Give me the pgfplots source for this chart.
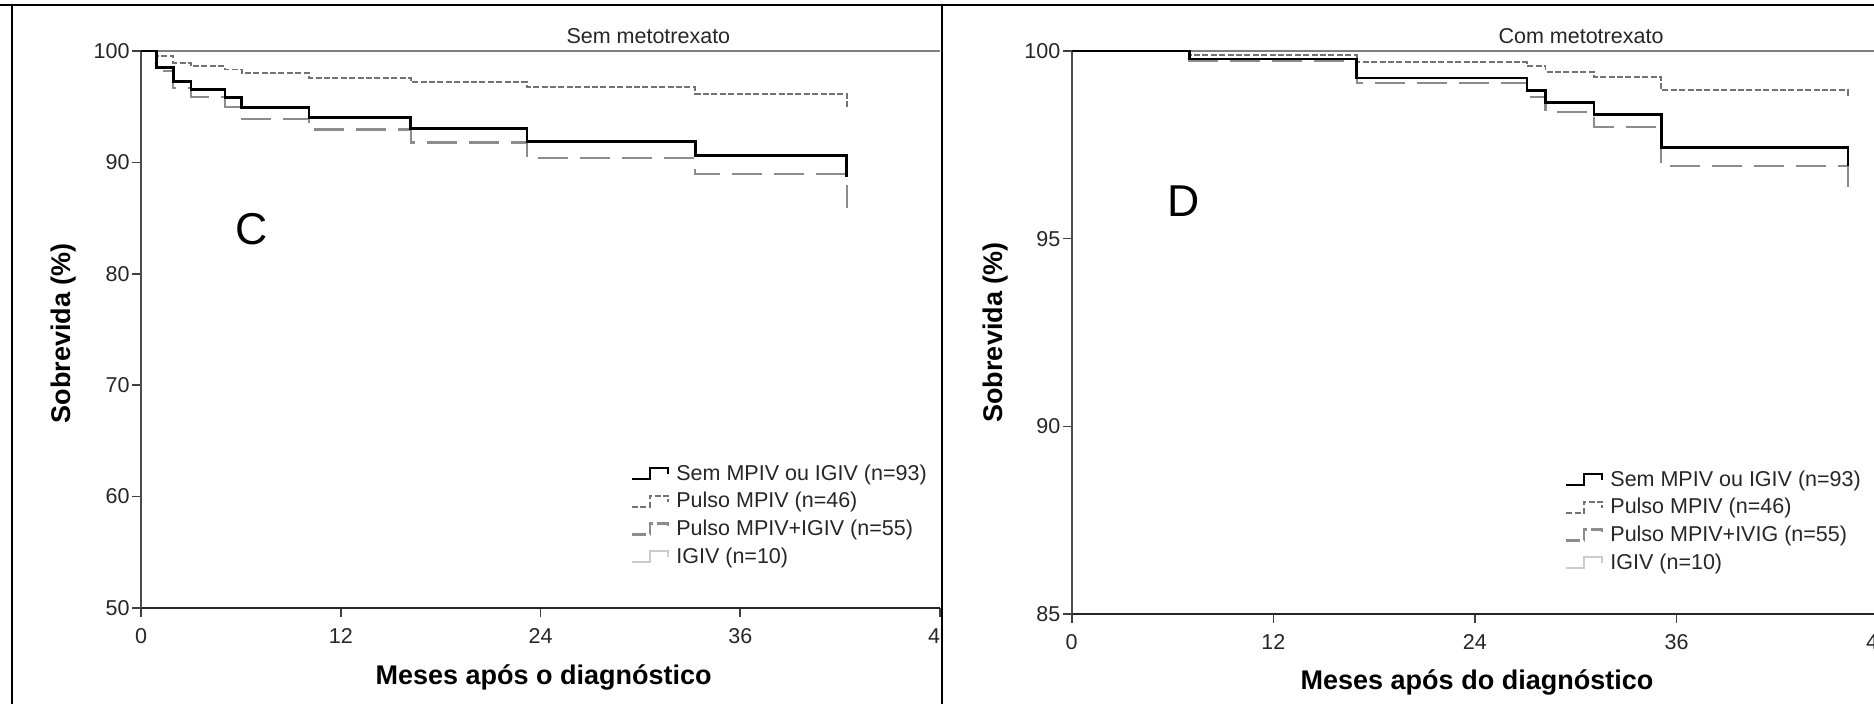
\documentclass[border=0pt]{standalone}
\usepackage{pgfplots}
\pgfplotsset{compat=1.18}
\usepackage{fontspec}
\setmainfont{Liberation Sans}
\tikzset{ttl/.style={font=\fontsize{10.75}{12}\selectfont, anchor=base, text=black!85}}
\begin{document}
\begin{tikzpicture}[x=0.5pt,y=0.5pt]
\useasboundingbox (0,0) rectangle (1874,704);
\pgfplotsset{
  km/.style={
    scale only axis, clip=false,
    axis x line*=bottom, axis y line*=left,
    axis line style={-},
    x axis line style={draw=black!85, line width=1pt},
    y axis line style={draw=black!70, line width=1pt},
    xmin=0, xmax=48, xtick={0,12,24,36,48},
    tick align=outside, major tick length=4.5pt,
    tick style={black!75, line width=0.8pt},
    /pgf/number format/assume math mode=true,
    ticklabel style={font=\fontsize{10.75}{12}\selectfont, text=black!85},
    yticklabel style={inner sep=1pt},
    xticklabel style={yshift=-2pt},
    ylabel style={font=\fontsize{13.5}{15}\selectfont\bfseries, anchor=center},
    xlabel style={font=\fontsize{13.5}{15}\selectfont\bfseries, anchor=base},
    legend cell align=left,
    legend style={draw=none, fill=none, anchor=north west, inner sep=0pt,
      nodes={inner sep=1.5pt}, row sep=1.6pt,
      /tikz/every odd column/.append style={column sep=2pt},
      font=\fontsize{10.75}{12}\selectfont, text=black!85},
    legend image code/.code={\draw[#1] (0pt,-2.5pt) -- (9pt,-2.5pt) -- (9pt,3pt) -- (18pt,3pt) -- (18pt,0pt);},
  },
  s1/.style={black, line width=1.3pt},
  s2/.style={black!55, line width=0.9pt, dash pattern=on 3pt off 1.2pt},
  s3/.style={black!45, line width=1.1pt, dash pattern=on 15pt off 6pt},
  s4/.style={black!20, line width=1pt},
  s3leg/.style={black!45, line width=1.1pt, dash pattern=on 7pt off 2pt},
}
% ---------------- Left panel ----------------
\begin{scope}
\clip (12,0) rectangle (942,699);
\begin{axis}[km, at={(70.5pt,48pt)}, anchor=south west, width=399.5pt, height=278.5pt,
  ymin=50, ymax=100, ytick={50,60,70,80,90,100},
  xlabel={Meses após o diagnóstico}, xlabel style={at={(axis description cs:0.504,-0.138)}},
  ylabel={Sobrevida (\%)}, ylabel style={at={(axis description cs:-0.0964,0.493)}},
  legend style={at={(axis description cs:0.6125,0.2636)}},
]
\addplot[s4, const plot, forget plot] coordinates {(0,100) (42.4,100)};
\draw[black!50, line width=1.4pt] (rel axis cs:0,1) -- (rel axis cs:1,1);
\addplot[s3, const plot, forget plot] coordinates {(0,100) (0.94,98.2) (1.94,96.7) (3.0,95.84) (5.05,94.95) (6.05,93.93) (10.1,92.95) (16.2,91.78) (23.2,90.43) (33.3,88.96) (42.4,85.9)};
\addplot[s2, const plot, forget plot] coordinates {(0,100) (0.94,99.55) (1.94,98.95) (3.0,98.62) (5.05,98.33) (6.05,98.0) (10.1,97.57) (16.2,97.2) (23.2,96.75) (33.3,96.15) (42.4,94.75)};
\addplot[s1, const plot, forget plot] coordinates {(0,100) (0.94,98.5) (1.94,97.27) (3.0,96.55) (5.05,95.8) (6.05,94.95) (10.1,94.05) (16.2,93.06) (23.2,91.9) (33.3,90.62) (42.4,88.7)};
\addlegendimage{s1}\addlegendentry{Sem MPIV ou IGIV (n=93)}
\addlegendimage{s2}\addlegendentry{Pulso MPIV (n=46)}
\addlegendimage{s3leg}\addlegendentry{Pulso MPIV+IGIV (n=55)}
\addlegendimage{s4}\addlegendentry{IGIV (n=10)}
\node[ttl] at (axis description cs:0.635,1.0138) {Sem metotrexato};
\node[font=\fontsize{22.3}{24}\selectfont, anchor=base] at (axis description cs:0.138,0.6517) {C};
\end{axis}
\end{scope}
% ---------------- Right panel ----------------
\begin{scope}
\clip (942,0) rectangle (1874,699);
\begin{axis}[km, at={(535.85pt,45pt)}, anchor=south west, width=403.2pt, height=281.5pt,
  ymin=85, ymax=100, ytick={85,90,95,100},
  xlabel={Meses após do diagnóstico}, xlabel style={at={(axis description cs:0.5026,-0.135)}},
  ylabel={Sobrevida (\%)}, ylabel style={at={(axis description cs:-0.095,0.5)}},
  legend style={at={(axis description cs:0.611,0.2607)}},
]
\addplot[s4, const plot, forget plot] coordinates {(0,100) (46.2,100)};
\draw[black!50, line width=1.4pt] (rel axis cs:0,1) -- (rel axis cs:1,1);
\addplot[s3, const plot, forget plot] coordinates {(0,100) (7.0,99.74) (16.96,99.14) (27.1,98.77) (28.2,98.38) (31.1,97.97) (35.1,96.93) (46.2,96.3)};
\addplot[s2, const plot, forget plot] coordinates {(0,100) (7.0,99.9) (16.96,99.7) (27.1,99.6) (28.2,99.45) (31.1,99.31) (35.1,98.95) (46.2,98.76)};
\addplot[s1, const plot, forget plot] coordinates {(0,100) (7.0,99.79) (16.96,99.28) (27.1,98.95) (28.2,98.63) (31.1,98.3) (35.1,97.43) (46.2,96.93)};
\addlegendimage{s1}\addlegendentry{Sem MPIV ou IGIV (n=93)}
\addlegendimage{s2}\addlegendentry{Pulso MPIV (n=46)}
\addlegendimage{s3leg}\addlegendentry{Pulso MPIV+IVIG (n=55)}
\addlegendimage{s4}\addlegendentry{IGIV (n=10)}
\node[ttl] at (axis description cs:0.6316,1.0137) {Com metotrexato};
\node[font=\fontsize{22.3}{24}\selectfont, anchor=base] at (axis description cs:0.139,0.7057) {D};
\end{axis}
\end{scope}
% ---------------- panel frames ----------------
\draw[black, line width=1.2pt] (0,699) -- (1874,699);
\draw[black, line width=1.2pt] (12,0) -- (12,699);
\draw[black, line width=1.2pt] (942,0) -- (942,699);
\end{tikzpicture}
\end{document}
